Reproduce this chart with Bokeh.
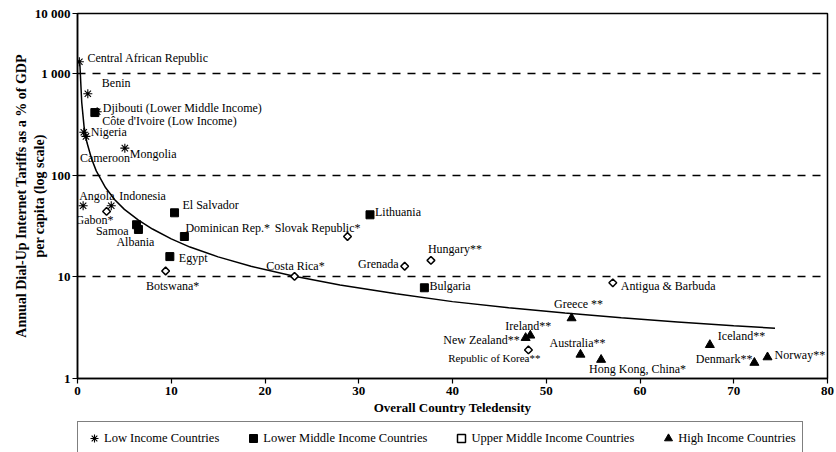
import math
from bokeh.plotting import figure
from bokeh.layouts import column
from bokeh.models import (Range1d, FixedTicker, ColumnDataSource, Legend, LegendItem)
from bokeh.core.properties import value
from bokeh.embed import file_html
from bokeh.resources import INLINE

# ---------------- data ----------------
low_names = ["Central African Republic", "Benin", "Côte d'Ivoire (Low Income)", "Nigeria",
             "Cameroon", "Mongolia", "Angola", "Indonesia"]
low_x = [0.2, 1.1, 2.1, 0.67, 0.9, 5.05, 0.6, 3.6]
low_y = [1300, 630, 420, 264, 240, 184, 50, 50]

lower_mid_names = ["Djibouti (Lower Middle Income)", "Samoa", "Albania", "El Salvador",
                   "Dominican Rep.*", "Egypt", "Lithuania", "Bulgaria"]
lower_mid_x = [1.85, 6.3, 6.5, 10.35, 11.4, 9.85, 31.2, 37.0]
lower_mid_y = [412, 32.5, 29.2, 42.6, 24.9, 15.8, 40.7, 7.8]

upper_mid_names = ["Gabon*", "Botswana*", "Costa Rica*", "Slovak Republic*", "Grenada",
                   "Hungary**", "Republic of Korea**", "Antigua & Barbuda"]
upper_mid_x = [3.1, 9.4, 23.15, 28.8, 34.9, 37.7, 48.1, 57.1]
upper_mid_y = [43.9, 11.4, 10.1, 24.9, 12.7, 14.5, 1.91, 8.73]

high_names = ["Greece **", "Ireland**", "New Zealand**", "Australia**", "Hong Kong, China*",
              "Iceland**", "Denmark**", "Norway**"]
high_x = [52.7, 48.3, 47.8, 53.65, 55.85, 67.45, 72.2, 73.6]
high_y = [3.92, 2.65, 2.51, 1.72, 1.53, 2.14, 1.43, 1.62]

# trend line
trend_x = [0.25, 0.45, 0.7, 1.0, 1.5, 2.0, 3.0, 4.0, 5.0, 6.5, 8.0, 10, 12, 15, 18.5,
           23, 28, 34, 40, 46, 52, 58, 64, 70, 74.4]
trend_y = [1250, 520, 300, 210, 145, 110, 75, 57, 46, 36, 29.5, 23.6, 19.6, 15.7, 12.7,
           10.2, 8.3, 6.8, 5.7, 4.95, 4.4, 3.95, 3.6, 3.3, 3.12]

x_ticks = [0, 10, 20, 30, 40, 50, 60, 70, 80]
y_ticks = [1, 10, 100, 1000, 3880]
y_tick_labels = ["1", "10", "100", "1 000", "10 000"]
grid_levels = [10, 100, 1000]

x_title = "Overall Country Teledensity"
y_title = "Annual Dial-Up Internet Tariffs as a % of GDP\nper capita (log scale)"
legend_labels = ["Low Income Countries", "Lower Middle Income Countries",
                 "Upper Middle Income Countries", "High Income Countries"]

# label placement (style): dx right, dy down in px, alignment
label_style = {
    "Central African Republic": (8, -4, "left"),
    "Benin": (14, -11, "left"),
    "Djibouti (Lower Middle Income)": (8, -5, "left"),
    "Côte d'Ivoire (Low Income)": (5, 9, "left"),
    "Nigeria": (7, 0, "left"),
    "Cameroon": (-6, 22, "left"),
    "Mongolia": (5, 6, "left"),
    "Angola": (-4, -10, "left"),
    "Indonesia": (8, -10, "left"),
    "Gabon*": (7, 9, "right"),
    "Samoa": (-8, 6, "right"),
    "Albania": (-3, 13, "center"),
    "El Salvador": (8, -8, "left"),
    "Dominican Rep.*": (1, -9, "left"),
    "Egypt": (9, 1, "left"),
    "Botswana*": (7, 15, "center"),
    "Costa Rica*": (1, -10, "center"),
    "Slovak Republic*": (13, -9, "right"),
    "Lithuania": (5, -3, "left"),
    "Hungary**": (-3, -11, "left"),
    "Grenada": (-6, -2, "right"),
    "Bulgaria": (5, -2, "left"),
    "Greece **": (7, -14, "center"),
    "Ireland**": (-2, -9, "center"),
    "New Zealand**": (-6, 2, "right"),
    "Republic of Korea**": (12, 8, "right"),
    "Australia**": (-3, -12, "center"),
    "Hong Kong, China*": (-12, 9, "left"),
    "Antigua & Barbuda": (8, 3, "left"),
    "Iceland**": (8, -9, "left"),
    "Denmark**": (-2, -4, "right"),
    "Norway**": (7, -2, "left"),
}
small_labels = {"Republic of Korea**"}

SERIF = "Liberation Serif"
W = 836

p = figure(width=W, height=421, output_backend="svg", toolbar_location=None,
           x_range=Range1d(x_ticks[0], x_ticks[-1]),
           y_range=Range1d(y_ticks[0], y_ticks[-1]), y_axis_type="log",
           min_border_left=77, min_border_right=9, min_border_top=13, min_border_bottom=43,
           background_fill_color="white", border_fill_color="white")

p.outline_line_color = "black"
p.outline_line_width = 1.5

# grid: dashed lines at 10, 100, 1000
p.xgrid.visible = False
p.ygrid.ticker = FixedTicker(ticks=grid_levels)
p.ygrid.grid_line_color = "black"
p.ygrid.grid_line_dash = "8 7"
p.ygrid.grid_line_width = 1.3

# axes
for ax in (p.xaxis[0], p.yaxis[0]):
    ax.axis_line_color = "black"
    ax.axis_line_width = 1.5
    ax.major_tick_line_color = "black"
    ax.major_tick_line_width = 1.2
    ax.major_tick_in = 0
    ax.major_tick_out = 5
    ax.minor_tick_line_color = None
    ax.major_label_text_font = SERIF
    ax.major_label_text_font_style = "bold"
    ax.major_label_text_font_size = "13px"
    ax.major_label_text_color = "black"
    ax.axis_label_text_font = SERIF
    ax.axis_label_text_font_style = "bold"
    ax.axis_label_text_color = "black"

p.xaxis.ticker = FixedTicker(ticks=x_ticks)
p.xaxis.major_label_standoff = 3
p.xaxis.axis_label = x_title
p.xaxis.axis_label_text_font_size = "13px"
p.xaxis.axis_label_standoff = 2

p.yaxis.ticker = FixedTicker(ticks=y_ticks)
p.yaxis.major_label_overrides = {t: s for t, s in zip(y_ticks, y_tick_labels)}
p.yaxis.major_label_standoff = 2
p.yaxis.axis_label = y_title
p.yaxis.axis_label_text_font_size = "14px"
p.yaxis.axis_label_standoff = -15

# trend line
p.line(trend_x, trend_y, line_color="black", line_width=1.5)

# markers
MARKERS = [
    dict(marker="asterisk", size=9, line_color="black", line_width=1.1),
    dict(marker="square", size=8, fill_color="black", line_color="black"),
    dict(marker="square", size=5.5, angle=math.pi / 4, fill_color="white",
         line_color="black", line_width=1.5),
    dict(marker="triangle", size=9, fill_color="black", line_color="black"),
]
groups = [(low_x, low_y), (lower_mid_x, lower_mid_y), (upper_mid_x, upper_mid_y),
          (high_x, high_y)]
for (gx, gy), st in zip(groups, MARKERS):
    p.scatter(gx, gy, **st)

# point labels
names = low_names + lower_mid_names + upper_mid_names + high_names
xs = low_x + lower_mid_x + upper_mid_x + high_x
ys = low_y + lower_mid_y + upper_mid_y + high_y
for align in ("left", "right", "center"):
    for small in (False, True):
        idx = [i for i, nm in enumerate(names)
               if label_style[nm][2] == align and ((nm in small_labels) == small)]
        if not idx:
            continue
        src = ColumnDataSource(dict(
            x=[xs[i] for i in idx], y=[ys[i] for i in idx], t=[names[i] for i in idx],
            dx=[label_style[names[i]][0] for i in idx],
            dy=[label_style[names[i]][1] for i in idx]))
        p.text(x="x", y="y", text="t", x_offset="dx", y_offset="dy", source=src,
               text_align=align, text_baseline="middle", text_font=value(SERIF),
               text_font_size="11px" if small else "12px", text_color="black")

# ---------------- legend strip ----------------
lf = figure(width=W, height=31, output_backend="svg", toolbar_location=None,
            x_range=Range1d(1000, 1001), y_range=Range1d(1000, 1001),
            x_axis_location=None, y_axis_location=None,
            min_border_left=60, min_border_right=0, min_border_top=0, min_border_bottom=0,
            background_fill_color="white", border_fill_color="white")
lf.grid.visible = False
lf.outline_line_color = None
lrs = [lf.scatter(gx, gy, **st) for (gx, gy), st in zip(groups, MARKERS)]

legend = Legend(items=[LegendItem(label=lab, renderers=[r])
                       for lab, r in zip(legend_labels, lrs)],
                orientation="horizontal", location="top_left")
legend.label_text_font = SERIF
legend.label_text_font_size = "12.5px"
legend.label_text_color = "black"
legend.border_line_color = "black"
legend.border_line_width = 1
legend.padding = 6
legend.spacing = 24
legend.glyph_width = 20
legend.glyph_height = 20
legend.label_height = 20
legend.label_standoff = 0
legend.margin = 0
legend.background_fill_color = "white"
legend.background_fill_alpha = 1
lf.add_layout(legend)

layout = column(p, lf, spacing=0)
open("out.html", "w").write(file_html(layout, INLINE))
